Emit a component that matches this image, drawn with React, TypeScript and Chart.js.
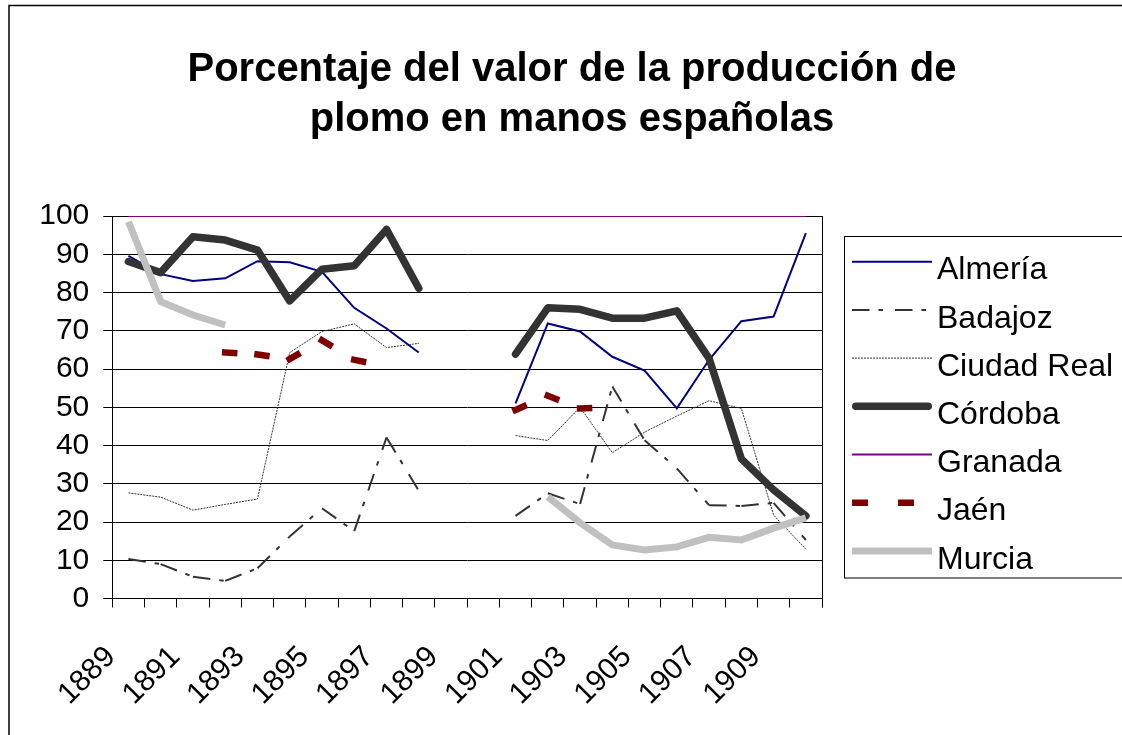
import { useEffect, useRef } from 'react';
import { Chart, registerables } from 'chart.js';

Chart.register(...registerables);

const years = ['1889', '1890', '1891', '1892', '1893', '1894', '1895', '1896', '1897', '1898', '1899',
  '1900', '1901', '1902', '1903', '1904', '1905', '1906', '1907', '1908', '1909', '1910'];

const almeria = [89.6, 84.8, 83.0, 83.7, 88.2, 87.9, 85.4, 76.0, 70.6, 64.3, null, null,
  51.0, 71.9, 69.8, 63.2, 59.6, 49.7, 62.4, 72.5, 73.7, 95.5];
const badajoz = [10.3, 9.0, 5.7, 4.6, 7.9, 16.2, 23.6, 17.6, 42.1, 28.2, null, null,
  21.6, 27.5, 24.7, 55.4, 41.4, 34.0, 24.4, 24.2, 25.0, 15.3];
const ciudadReal = [27.6, 26.5, 23.1, 24.6, 26.0, 64.3, 69.8, 71.8, 65.6, 66.7, null, null,
  42.6, 41.3, 50.0, 38.1, 43.5, 47.7, 51.7, 49.7, 21.8, 12.9];
const cordoba = [88.1, 85.2, 94.6, 93.7, 91.1, 77.8, 86.1, 87.0, 96.5, 81.1, null, null,
  63.9, 76.0, 75.6, 73.3, 73.3, 75.2, 62.8, 36.5, 28.4, 21.6];
const granada = [100, 100, 100, 100, 100, 100, 100, 100, 100, 100, 100,
  100, 100, 100, 100, 100, 100, 100, 100, 100, 100, 100];
const jaen = [null, null, null, 64.3, 63.8, 62.6, 67.5, 62.4, 60.7, null, null, null,
  49.3, 53.0, 49.7, 50.0, null, null, null, null, null, null];
const murcia = [98.5, 77.6, 74.1, 71.5, null, null, null, null, null, null, null, null,
  null, 26.6, 19.8, 14.0, 12.7, 13.5, 16.0, 15.3, 18.4, 21.1];

const seriesNames = ['Almería', 'Badajoz', 'Ciudad Real', 'Córdoba', 'Granada', 'Jaén', 'Murcia'];
const titleLines = ['Porcentaje del valor de la producción de', 'plomo en manos españolas'];
const yTicks = { min: 0, max: 100, step: 10 };

const FONT = '"Liberation Sans", Arial, Helvetica, sans-serif';

// restart dash pattern at every vertex (as the original spreadsheet renderer does)
const restartDash = { borderDashOffset: (c: any) => (c.p0DataIndex % 2 ? 0.001 : 0) };

const legendDash: number[][] = [[], [17.5, 9, 4.5, 12], [2, 1], [], [], [16, 30], []];

const framePlugin = {
  id: 'frame',
  beforeDraw(chart: any) {
    const ctx = chart.ctx;
    ctx.save();
    ctx.fillStyle = '#fff';
    ctx.fillRect(0, 0, chart.width, chart.height);
    ctx.strokeStyle = '#000';
    ctx.lineWidth = 1.5;
    ctx.strokeRect(9, 5.5, chart.width + 50, chart.height + 50);
    ctx.restore();
  },
  afterDraw(chart: any) {
    const ctx = chart.ctx;
    const a = chart.chartArea;
    ctx.save();
    ctx.strokeStyle = '#000';
    ctx.lineWidth = 1;
    ctx.beginPath();
    ctx.moveTo(Math.round(a.right) + 0.5, a.top);
    ctx.lineTo(Math.round(a.right) + 0.5, a.bottom + 9);
    ctx.stroke();

    ctx.fillStyle = '#000';
    ctx.font = `bold 40px ${FONT}`;
    ctx.textAlign = 'center';
    ctx.textBaseline = 'alphabetic';
    ctx.fillText(titleLines[0], 572, 81);
    ctx.fillText(titleLines[1], 572, 131);

    ctx.lineWidth = 1;
    ctx.strokeStyle = '#000';
    ctx.strokeRect(844.5, 236.5, 400, 341.5);
    chart.data.datasets.forEach((ds: any, i: number) => {
      const yl = 261.7 + i * 48.2;
      const yb = 279.3 + i * 48.2;
      ctx.save();
      ctx.strokeStyle = ds.borderColor;
      ctx.lineWidth = ds.borderWidth;
      const cap = ds.borderCapStyle || 'butt';
      ctx.lineCap = cap === 'square' ? 'butt' : cap;
      ctx.setLineDash(legendDash[i]);
      const inset = cap === 'round' ? ds.borderWidth / 2 : 0;
      ctx.beginPath();
      ctx.moveTo(852 + inset, yl);
      ctx.lineTo(932 - inset, yl);
      ctx.stroke();
      ctx.restore();
      ctx.fillStyle = '#000';
      ctx.font = `32px ${FONT}`;
      ctx.textAlign = 'left';
      ctx.textBaseline = 'alphabetic';
      ctx.fillText(ds.label, 937, yb);
    });
    ctx.restore();
  },
};

export default function App() {
  const ref = useRef<HTMLCanvasElement>(null);

  useEffect(() => {
    const common = { pointRadius: 0, pointHoverRadius: 0, tension: 0, spanGaps: false, fill: false };
    const chart = new Chart(ref.current as HTMLCanvasElement, {
      type: 'line',
      data: {
        labels: years,
        datasets: [
          { ...common, label: seriesNames[0], data: almeria, borderColor: '#000080', borderWidth: 2, order: 0 },
          { ...common, label: seriesNames[1], data: badajoz, borderColor: '#333333', borderWidth: 2,
            borderDash: [17.5, 9, 4.5, 12], segment: restartDash, order: -1 },
          { ...common, label: seriesNames[2], data: ciudadReal, borderColor: '#333333', borderWidth: 1,
            borderDash: [2, 1], order: -2 },
          { ...common, label: seriesNames[3], data: cordoba, borderColor: '#333333', borderWidth: 7.5,
            borderCapStyle: 'round', borderJoinStyle: 'round', order: -3 },
          { ...common, label: seriesNames[4], data: granada, borderColor: '#800080', borderWidth: 2, order: -4 },
          { ...common, label: seriesNames[5], data: jaen, borderColor: '#800000', borderWidth: 6.5,
            borderDash: [9, 40], borderCapStyle: 'square', segment: restartDash, order: -5 },
          { ...common, label: seriesNames[6], data: murcia, borderColor: '#C0C0C0', borderWidth: 7,
            borderCapStyle: 'butt', borderJoinStyle: 'miter', order: -6 },
        ] as any,
      },
      options: {
        responsive: false,
        animation: false,
        events: [],
        layout: { padding: { left: 0, top: 216, right: 300, bottom: 0 } },
        plugins: {
          legend: { display: false },
          title: { display: false },
          tooltip: { enabled: false },
        },
        scales: {
          x: {
            type: 'category',
            offset: true,
            afterFit: (s: any) => { s.height = 136.5; },
            grid: { display: true, drawOnChartArea: false, offset: true, drawTicks: true, tickLength: 9, color: '#000', lineWidth: 1 },
            border: { display: true, color: '#000', width: 1 },
            ticks: {
              autoSkip: false,
              maxRotation: 45,
              minRotation: 45,
              padding: 32,
              labelOffset: -17.6,
              color: '#000',
              font: { family: FONT, size: 30 },
              callback: (_v: any, i: number) => (i % 2 === 0 ? years[i] : ''),
            },
          },
          y: {
            min: yTicks.min,
            max: yTicks.max,
            afterFit: (s: any) => { s.width = 112.3; },
            grid: { color: '#000', lineWidth: 1, drawTicks: true, tickLength: 9 },
            border: { display: true, color: '#000', width: 1 },
            ticks: {
              stepSize: yTicks.step,
              autoSkip: false,
              padding: 14,
              color: '#000',
              font: { family: FONT, size: 30 },
            },
          },
        },
      } as any,
      plugins: [framePlugin],
    });
    return () => chart.destroy();
  }, []);

  return (
    <div style={{ position: 'absolute', left: 0, top: 0, width: 1122, height: 735, background: '#fff' }}>
      <canvas ref={ref} width={1122} height={735} style={{ display: 'block' }} />
    </div>
  );
}
